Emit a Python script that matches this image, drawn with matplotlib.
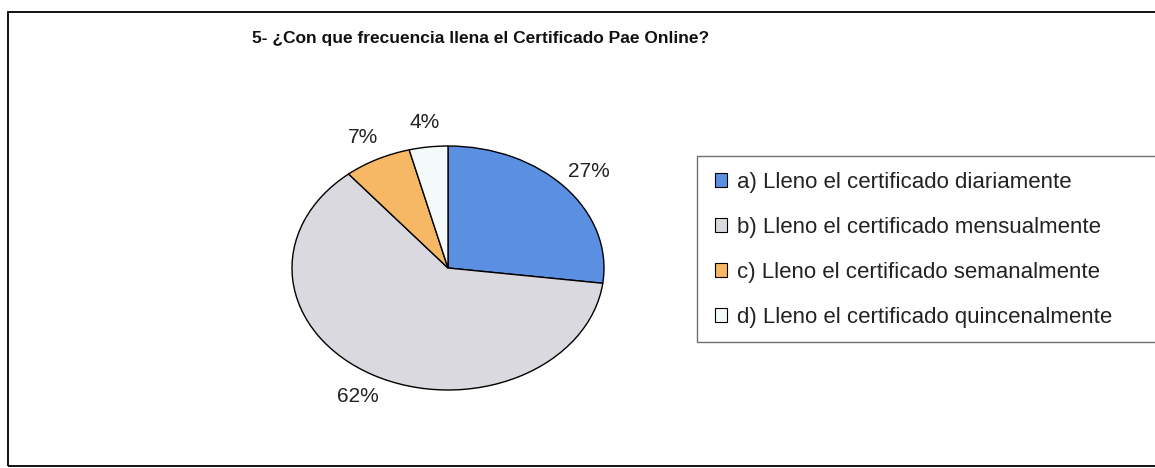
import matplotlib.pyplot as plt
from matplotlib.patches import Rectangle, Patch

title = "5- ¿Con que frecuencia llena el Certificado Pae Online?"
categories = ["a) Lleno el certificado diariamente",
              "b) Lleno el certificado mensualmente",
              "c) Lleno el certificado semanalmente",
              "d) Lleno el certificado quincenalmente"]
values = [27, 62, 7, 4]
colors = ["#5a8fe2", "#d9d9df", "#f7b866", "#f4fafa"]


def main():
    plt.rcParams['font.family'] = ['Liberation Sans', 'DejaVu Sans']
    W, H = 1155, 468
    fig = plt.figure(figsize=(W / 100, H / 100), dpi=100)

    # outer chart frame (runs off the right edge like the scan)
    fig.patches.append(Rectangle((8 / W, 1 - 466 / H), 1.2, (466 - 12) / H,
                                 transform=fig.transFigure, fill=False,
                                 edgecolor="black", lw=1.3))

    fig.text(481 / W, 1 - 43 / H, title, ha="center", va="baseline",
             fontsize=12.5, fontweight="bold", color="#111111")

    # pie drawn in a squashed axes so it comes out as an ellipse
    cx, cy, rx, ry = 448, 268, 156, 122
    ax = fig.add_axes([(cx - rx) / W, 1 - (cy + ry) / H, 2 * rx / W, 2 * ry / H])
    labels = ["{}%".format(v) for v in values]
    wedges, texts = ax.pie(values, colors=colors, startangle=90,
                           counterclock=False, labels=labels,
                           labeldistance=1.2,
                           wedgeprops=dict(edgecolor="black", linewidth=1),
                           textprops=dict(fontsize=15, color="#222222"))
    for t in texts:
        t.set_ha("center")
        t.set_va("center")
    ax.set_aspect("auto")
    ax.set_xlim(-1, 1)
    ax.set_ylim(-1, 1)

    # legend box
    fig.patches.append(Rectangle((697 / W, 1 - 342 / H), 1.0, (342 - 156) / H,
                                 transform=fig.transFigure, fill=False,
                                 edgecolor="#707070", lw=1))
    handles = [Patch(facecolor=c, edgecolor="black", lw=0.8) for c in colors]
    fig.legend(handles, categories, loc="upper left",
               bbox_to_anchor=(715 / W, 1 - 172 / H), frameon=False,
               fontsize=16, handlelength=0.55, handleheight=0.55,
               handletextpad=0.45, labelspacing=1.08, borderpad=0.0,
               borderaxespad=0.0, labelcolor="#222222")

    fig.savefig("out.png", dpi=100, facecolor="white")


if __name__ == '__main__':
    main()
